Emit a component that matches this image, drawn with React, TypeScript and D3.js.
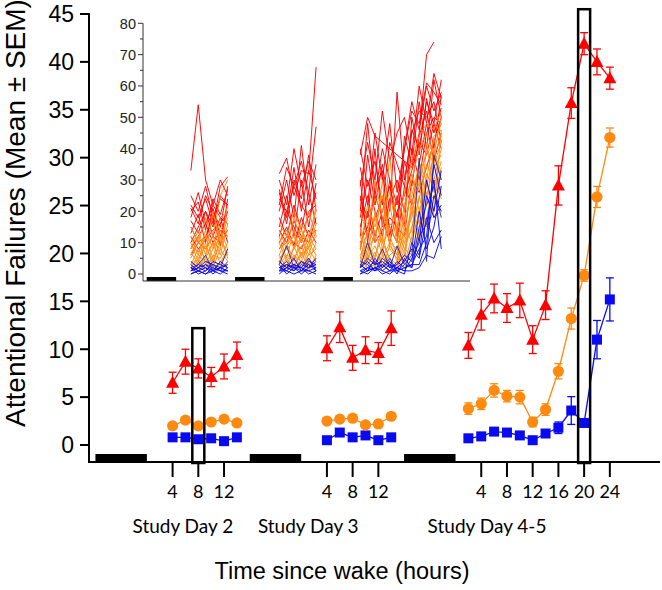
import React from "react";
import * as d3 from "d3";

const W = 662;
const H = 590;

// ---- timeline (hours on a continuous axis; each study day offset by 24 h) ----
const dayOffsets = [0, 24, 48];
const dayLabels = ["Study Day 2", "Study Day 3", "Study Day 4-5"];
const dayLabelHours = [5.6, 25.1, 52.9];
const sleepStarts = [-8, 16, 40];
const sleepLength = 8;
const tickHours = [
  [4, 8, 12],
  [4, 8, 12],
  [4, 8, 12, 16, 20, 24],
];
const day2Hours = [4, 6, 8, 10, 12, 14];
const day3Hours = [4, 6, 8, 10, 12, 14];
const day45Hours = [2, 4, 6, 8, 10, 12, 14, 16, 18, 20, 22, 24];
const yTicks = [0, 5, 10, 15, 20, 25, 30, 35, 40, 45];
const insetTicks = [0, 10, 20, 30, 40, 50, 60, 70, 80];
const insetMinor = [5, 15, 25, 35, 45, 55, 65, 75];

// highlighted time points (day offset + hour) and top of the box (in y units)
const highlightHours = [8, 68];
const highlightTops = [12.2, 45.5];

// ---- main series (mean ± SEM) ----
const redD2 = [6.5, 8.7, 8.0, 7.1, 8.2, 9.4];
const redE2 = [1.1, 1.3, 1.0, 1.0, 1.3, 1.35];
const redD3 = [10.1, 12.3, 9.1, 9.9, 9.6, 12.2];
const redE3 = [1.3, 1.6, 1.3, 1.4, 1.1, 1.8];
const redD45 = [10.4, 13.6, 15.3, 14.3, 15.1, 11.0, 14.6, 27.1, 35.7, 41.9, 40.0, 38.3];
const redE45 = [1.35, 1.6, 1.5, 1.5, 1.8, 1.45, 1.5, 2.05, 1.6, 1.15, 1.35, 1.15];

const orangeD2 = [2.0, 2.6, 2.0, 2.4, 2.7, 2.3];
const orangeE2 = [0.3, 0.3, 0.3, 0.3, 0.3, 0.3];
const orangeD3 = [2.5, 2.7, 2.8, 2.1, 2.2, 3.0];
const orangeE3 = [0.3, 0.3, 0.3, 0.3, 0.3, 0.3];
const orangeD45 = [3.8, 4.3, 5.7, 5.1, 5.0, 2.4, 3.7, 7.7, 13.2, 17.7, 25.9, 32.1];
const orangeE45 = [0.6, 0.6, 0.7, 0.6, 0.7, 0.5, 0.6, 0.8, 1.1, 0.6, 1.1, 1.0];

const blueD2 = [0.8, 0.8, 0.6, 0.7, 0.4, 0.8];
const blueE2 = [0.2, 0.2, 0.2, 0.2, 0.2, 0.2];
const blueD3 = [0.5, 1.3, 0.8, 1.0, 0.5, 0.8];
const blueE3 = [0.2, 0.2, 0.2, 0.2, 0.2, 0.2];
const blueD45 = [0.7, 0.9, 1.4, 1.3, 1.0, 0.5, 1.2, 1.8, 3.6, 2.3, 11.0, 15.2];
const blueE45 = [0.2, 0.2, 0.2, 0.2, 0.2, 0.2, 0.3, 0.6, 1.45, 0.3, 2.0, 2.25];

// ---- inset: individual subjects (6 values day 2 | 6 values day 3 | 12 values day 4-5) ----
type V = number | null;
const redSubjects: V[][] = [
  [33, 54, 30, 22, 18, 16, 24, 20, 28, 22, 18, 26, 38, 50, 44, 42, 40, 38, 36, 34, 45, 70, 74, null],
  [22, 18, 24, 16, 28, 31, 32, 37, 25, 33, 32, 66, 20, 48, 25, 40, 30, 22, 40, 52, 48, 61, 58, 54],
  [20, 23, 14, 24, 19, 27, 20, 30, 18, 41, 22, 35, 12, 38, 22, 35, 20, 58, 30, 45, 52, 50, 55, 42],
  [17, 13, 20, 15, 25, 22, 27, 18, 34, 20, 33, 24, 24, 18, 40, 15, 30, 12, 44, 35, 55, 40, 62, 50],
  [13, 19, 10, 21, 12, 20, 15, 25, 12, 30, 15, 29, 30, 10, 28, 33, 12, 25, 15, 50, 38, 56, 45, 53],
  [10, 15, 20, 12, 18, 10, 18, 12, 22, 14, 26, 16, 15, 25, 12, 20, 28, 18, 36, 28, 44, 52, 40, 57],
  [15, 10, 12, 18, 9, 24, 12, 20, 15, 10, 20, 22, 18, 30, 20, 12, 24, 30, 20, 40, 30, 45, 50, 48],
  [8, 12, 16, 10, 14, 12, 10, 15, 9, 18, 12, 14, 10, 15, 25, 18, 10, 20, 25, 33, 42, 38, 48, 40],
  [12, 8, 11, 14, 16, 20, 14, 10, 17, 12, 10, 18, 25, 12, 18, 24, 15, 10, 28, 22, 35, 48, 36, 45],
  [6, 10, 8, 12, 10, 14, 8, 12, 10, 8, 14, 10, 8, 20, 10, 14, 18, 15, 12, 30, 26, 34, 42, 50],
  [25, 20, 28, 18, 24, 22, 30, 22, 40, 28, 36, 30, 34, 22, 45, 30, 48, 26, 40, 55, 46, 60, 52, 58],
  [18, 26, 16, 22, 30, 25, 22, 34, 28, 36, 26, 47, 28, 42, 30, 52, 36, 45, 50, 38, 60, 48, 64, 56],
  [21, 16, 25, 20, 15, 28, 26, 16, 30, 24, 38, 20, 40, 28, 36, 22, 42, 35, 28, 46, 40, 55, 48, 62],
];
const orangeSubjects: V[][] = [
  [15, 10, 18, 12, 25, 30, 10, 14, 8, 16, 12, 20, 20, 12, 30, 18, 15, 10, 22, 30, 40, 45, 38, 50],
  [8, 14, 6, 20, 10, 18, 14, 8, 18, 10, 20, 12, 8, 22, 15, 25, 10, 8, 18, 25, 35, 30, 44, 46],
  [12, 6, 14, 8, 15, 12, 6, 12, 10, 14, 8, 16, 15, 8, 18, 10, 38, 12, 10, 20, 28, 40, 35, 42],
  [5, 10, 8, 12, 6, 16, 12, 5, 14, 6, 12, 8, 5, 14, 10, 30, 8, 5, 14, 28, 32, 38, 42, 48],
  [10, 4, 12, 5, 14, 8, 8, 10, 4, 12, 6, 14, 12, 6, 20, 8, 16, 14, 8, 15, 24, 35, 30, 40],
  [3, 8, 5, 10, 8, 22, 4, 9, 12, 5, 10, 6, 6, 10, 5, 16, 12, 6, 20, 32, 20, 28, 38, 44],
  [6, 12, 3, 8, 12, 6, 10, 4, 8, 12, 4, 10, 10, 4, 14, 6, 22, 10, 12, 18, 36, 25, 34, 38],
  [2, 5, 9, 4, 10, 14, 5, 8, 6, 4, 9, 12, 3, 8, 12, 10, 5, 3, 6, 24, 16, 32, 28, 36],
  [4, 2, 6, 10, 3, 8, 3, 6, 5, 9, 3, 5, 8, 3, 6, 12, 4, 2, 10, 14, 30, 22, 40, 30],
  [1, 4, 2, 6, 5, 10, 2, 4, 3, 6, 8, 4, 2, 6, 4, 5, 10, 4, 16, 10, 20, 26, 24, 34],
  [7, 3, 10, 2, 8, 4, 6, 2, 9, 3, 6, 8, 14, 5, 9, 3, 6, 8, 4, 22, 12, 42, 26, 28],
  [2, 6, 4, 3, 12, 5, 1, 5, 2, 7, 2, 3, 4, 10, 2, 8, 3, 1, 8, 6, 14, 18, 30, 24],
  [0, 2, 5, 1, 4, 7, 4, 1, 6, 2, 5, 2, 1, 3, 7, 2, 9, 6, 3, 12, 25, 15, 20, 46],
  [3, 1, 2, 5, 2, 3, 2, 3, 1, 4, 1, 6, 5, 2, 3, 6, 2, 3, 12, 20, 10, 30, 18, 20],
  [9, 7, 12, 9, 18, 20, 16, 12, 20, 14, 10, 22, 18, 16, 24, 20, 26, 14, 26, 36, 44, 48, 46, 52],
];
const blueSubjects: V[][] = [
  [2, 3, 6, 1, 2, 8, 3, 9, 2, 4, 3, 2, 2, 10, 3, 8, 2, 9, 3, 6, 37, 4, 38, 30],
  [1, 2, 1, 3, 2, 1, 2, 1, 3, 2, 1, 2, 1, 2, 4, 1, 3, 2, 1, 5, 10, 30, 20, 33],
  [3, 1, 2, 1, 4, 2, 1, 3, 2, 1, 4, 3, 3, 1, 2, 3, 1, 4, 2, 3, 8, 12, 35, 25],
  [0, 1, 3, 2, 1, 4, 2, 4, 1, 3, 2, 4, 4, 3, 1, 2, 5, 1, 3, 2, 15, 22, 28, 18],
  [2, 0, 1, 4, 3, 2, 4, 2, 5, 1, 3, 1, 2, 5, 3, 4, 2, 3, 6, 4, 20, 8, 15, 28],
  [1, 3, 2, 0, 2, 3, 0, 2, 1, 4, 2, 3, 0, 2, 1, 3, 1, 2, 4, 8, 5, 18, 10, 14],
  [4, 2, 4, 3, 1, 1, 3, 0, 2, 2, 5, 1, 3, 1, 5, 2, 4, 1, 2, 3, 3, 10, 25, 20],
  [0, 1, 0, 2, 1, 0, 1, 1, 0, 1, 1, 0, 1, 0, 2, 1, 0, 2, 1, 1, 2, 6, 5, 12],
  [1, 2, 3, 1, 0, 2, 2, 3, 2, 0, 2, 5, 2, 4, 1, 5, 3, 0, 5, 2, 12, 16, 30, 8],
  [2, 1, 0, 1, 2, 1, 1, 2, 3, 2, 0, 1, 0, 1, 2, 0, 1, 1, 0, 10, 6, 25, 18, 22],
];
const navyBlueIdx = [0, 3];

const RED = "#ff0000";
const ORANGE = "#ff8a10";
const BLUE = "#0a0af0";
const NAVY = "#30309a";

const ARIAL = "'Liberation Sans', Arial, sans-serif";
const HUMAN = "Lato, 'Open Sans', sans-serif";

type Shape = "tri" | "circle" | "square";

function Marker({ cx, cy, shape, color }: { cx: number; cy: number; shape: Shape; color: string }) {
  if (shape === "tri") {
    const p = d3.path();
    p.moveTo(cx, cy - 7);
    p.lineTo(cx + 6.5, cy + 5);
    p.lineTo(cx - 6.5, cy + 5);
    p.closePath();
    return <path d={p.toString()} fill={color} />;
  }
  if (shape === "circle") return <circle cx={cx} cy={cy} r={5.6} fill={color} />;
  return <rect x={cx - 5} y={cy - 5} width={10} height={10} fill={color} />;
}

export default function App() {
  const x = d3.scaleLinear().domain([-9, 79.8]).range([89, 660]);
  const y = d3.scaleLinear().domain([0, 45]).range([445, 14]);
  const xi = d3.scaleLinear().domain([-9, 79.8]).range([143, 470]);
  const yi = d3.scaleLinear().domain([0, 80]).range([274, 23.3]);
  const axisY = 462;
  const insetAxisY = 281;

  const hoursByDay = [day2Hours, day3Hours, day45Hours];
  const series = [
    { color: BLUE, shape: "square" as Shape, vals: [blueD2, blueD3, blueD45], errs: [blueE2, blueE3, blueE45] },
    { color: ORANGE, shape: "circle" as Shape, vals: [orangeD2, orangeD3, orangeD45], errs: [orangeE2, orangeE3, orangeE45] },
    { color: RED, shape: "tri" as Shape, vals: [redD2, redD3, redD45], errs: [redE2, redE3, redE45] },
  ];

  const mainLine = d3
    .line<[number, number]>()
    .x((d) => x(d[0]))
    .y((d) => y(d[1]));

  const insetLine = d3
    .line<[number, V]>()
    .defined((d) => d[1] != null)
    .x((d) => xi(d[0]))
    .y((d) => yi(d[1] as number));

  const subjectSegments = (vals: V[]) => {
    const segs: [number, V][][] = [];
    let k = 0;
    hoursByDay.forEach((hrs, di) => {
      segs.push(hrs.map((h) => [dayOffsets[di] + h, vals[k++]] as [number, V]));
    });
    return segs;
  };

  const insetGroups = [
    { subjects: redSubjects, color: (i: number) => RED },
    { subjects: orangeSubjects, color: (i: number) => ORANGE },
    { subjects: blueSubjects, color: (i: number) => (navyBlueIdx.includes(i) ? NAVY : BLUE) },
  ];

  return (
    <svg
      width={W}
      height={H}
      viewBox={`0 0 ${W} ${H}`}
      style={{ position: "absolute", left: 0, top: 0, background: "#fff" }}
    >
      <rect x={0} y={0} width={W} height={H} fill="#fff" />

      {/* ===== inset ===== */}
      <g>
        {insetGroups.map((g, gi) =>
          g.subjects.map((s, si) =>
            subjectSegments(s).map((seg, k) => (
              <path
                key={`i-${gi}-${si}-${k}`}
                d={insetLine(seg) || ""}
                fill="none"
                stroke={g.color(si)}
                strokeWidth={1}
                strokeOpacity={0.95}
              />
            ))
          )
        )}
        {sleepStarts.map((s, i) => (
          <rect
            key={`is-${i}`}
            x={xi(s)}
            y={insetAxisY - 4}
            width={xi(s + sleepLength) - xi(s)}
            height={4}
            fill="#000"
          />
        ))}
        <line x1={xi.range()[0]} x2={xi.range()[1]} y1={insetAxisY} y2={insetAxisY} stroke="#333" strokeWidth={1} />
        <line x1={xi.range()[0]} x2={xi.range()[0]} y1={yi(80)} y2={insetAxisY} stroke="#333" strokeWidth={1} />
        {insetTicks.map((t) => (
          <g key={`it-${t}`}>
            <line x1={xi.range()[0] - 5} x2={xi.range()[0]} y1={yi(t)} y2={yi(t)} stroke="#333" strokeWidth={1} />
            <text
              x={xi.range()[0] - 7}
              y={yi(t)}
              dy="0.36em"
              textAnchor="end"
              fontFamily={ARIAL}
              fontSize={14.5}
              fill="#222"
            >
              {t}
            </text>
          </g>
        ))}
        {insetMinor.map((t) => (
          <line key={`im-${t}`} x1={xi.range()[0] - 3} x2={xi.range()[0]} y1={yi(t)} y2={yi(t)} stroke="#333" strokeWidth={1} />
        ))}
      </g>

      {/* ===== main axes ===== */}
      <line x1={x.range()[0]} x2={x.range()[0]} y1={y(45) - 1} y2={axisY + 1} stroke="#000" strokeWidth={2} />
      <line x1={x.range()[0]} x2={x.range()[1]} y1={axisY} y2={axisY} stroke="#000" strokeWidth={2} />
      {yTicks.map((t) => (
        <g key={`yt-${t}`}>
          <line x1={x.range()[0] - 9} x2={x.range()[0]} y1={y(t)} y2={y(t)} stroke="#000" strokeWidth={2} />
          <text x={74} y={y(t)} dy="0.36em" textAnchor="end" fontFamily={ARIAL} fontSize={23} fill="#000">
            {t}
          </text>
        </g>
      ))}
      {sleepStarts.map((s, i) => (
        <rect key={`ms-${i}`} x={x(s)} y={axisY - 8} width={x(s + sleepLength) - x(s)} height={8} fill="#000" />
      ))}
      {tickHours.map((hrs, di) =>
        hrs.map((h) => (
          <g key={`xt-${di}-${h}`}>
            <line x1={x(dayOffsets[di] + h)} x2={x(dayOffsets[di] + h)} y1={axisY} y2={axisY + 15} stroke="#000" strokeWidth={2} />
            <text x={x(dayOffsets[di] + h)} y={498} textAnchor="middle" fontFamily={HUMAN} fontSize={18} fill="#000">
              {h}
            </text>
          </g>
        ))
      )}
      {dayLabels.map((l, i) => (
        <text key={l} x={x(dayLabelHours[i])} y={533} textAnchor="middle" fontFamily={HUMAN} fontSize={19} fill="#000">
          {l}
        </text>
      ))}
      <text x={342} y={579} textAnchor="middle" fontFamily={ARIAL} fontSize={23.5} fill="#000">
        Time since wake (hours)
      </text>
      <text
        transform="translate(25,213) rotate(-90)"
        textAnchor="middle"
        fontFamily={ARIAL}
        fontSize={28}
        fill="#000"
      >
        Attentional Failures (Mean ± SEM)
      </text>

      {/* ===== main series ===== */}
      {series.map((s, si) =>
        hoursByDay.map((hrs, di) => {
          const pts = hrs.map((h, j) => [dayOffsets[di] + h, s.vals[di][j]] as [number, number]);
          return (
            <g key={`s-${si}-${di}`}>
              <path d={mainLine(pts) || ""} fill="none" stroke={s.color} strokeWidth={1.3} />
              {pts.map((p, j) => {
                const e = s.errs[di][j];
                const cx = x(p[0]);
                return (
                  <g key={`e-${j}`} stroke={s.color} strokeWidth={1.3}>
                    <line x1={cx} x2={cx} y1={y(p[1] - e)} y2={y(p[1] + e)} />
                    <line x1={cx - 4} x2={cx + 4} y1={y(p[1] - e)} y2={y(p[1] - e)} />
                    <line x1={cx - 4} x2={cx + 4} y1={y(p[1] + e)} y2={y(p[1] + e)} />
                  </g>
                );
              })}
              {pts.map((p, j) => (
                <Marker key={`m-${j}`} cx={x(p[0])} cy={y(p[1])} shape={s.shape} color={s.color} />
              ))}
            </g>
          );
        })
      )}

      {/* ===== highlight boxes ===== */}
      {highlightHours.map((h, i) => (
        <rect
          key={`hl-${i}`}
          x={x(h) - 6}
          y={y(highlightTops[i])}
          width={12}
          height={axisY + 1 - y(highlightTops[i])}
          fill="none"
          stroke="#000"
          strokeWidth={2.5}
        />
      ))}
    </svg>
  );
}
